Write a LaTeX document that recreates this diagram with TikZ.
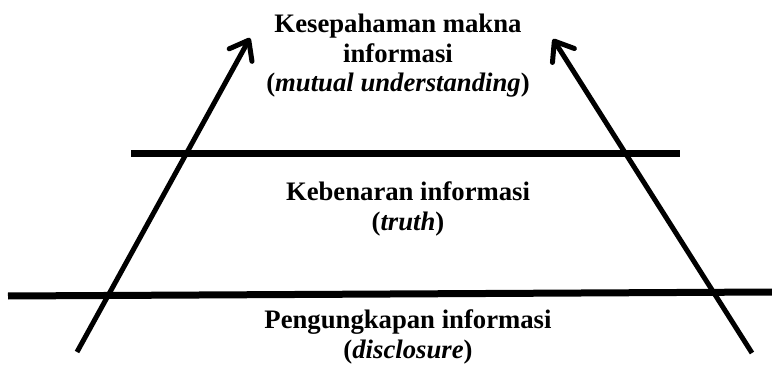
\documentclass[tikz,border=0pt]{standalone}
\usepackage{fontspec}
\setmainfont{Liberation Serif}
\usetikzlibrary{arrows.meta}
\tikzset{
  lvl/.style={font=\fontsize{26.7}{29.5}\selectfont\bfseries, align=center, inner sep=0pt, anchor=base},
  bar/.style={line width=7pt, line cap=butt},
  arr/.style={line width=5pt, line cap=butt,
    -{Straight Barb[length=17pt, width=26pt, line cap=round, line join=round]}}
}
\begin{document}
\begin{tikzpicture}[x=1pt, y=-1pt]
  \useasboundingbox (0,0) rectangle (772,369);
  \node[lvl] (top) at (398,92) {Kesepahaman makna\\informasi\\(\textit{mutual understanding})};
  \node[lvl] (mid) at (408,230) {Kebenaran informasi\\(\textit{truth})};
  \node[lvl] (bot) at (408,358) {Pengungkapan informasi\\(\textit{disclosure})};
  \coordinate (b1) at (131,153);
  \coordinate (b2) at (680,153);
  \coordinate (c1) at (8,296);
  \coordinate (c2) at (772,292);
  \draw[bar] (b1) -- (b2);
  \draw[bar] (c1) -- (c2);
  \coordinate (la) at (77,352);
  \coordinate (lb) at (250,38);
  \coordinate (ra) at (752,353);
  \coordinate (rb) at (553,39);
  \draw[arr] (la) -- (lb);
  \draw[arr] (ra) -- (rb);
\end{tikzpicture}
\end{document}
